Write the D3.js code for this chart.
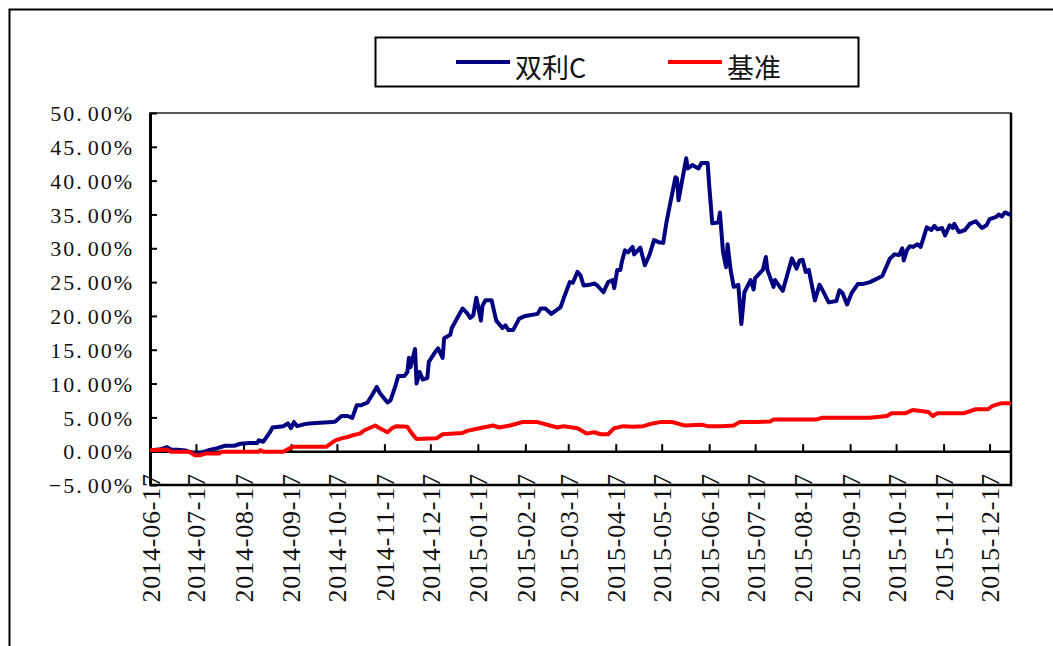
<!DOCTYPE html>
<html>
<head>
<meta charset="utf-8">
<script src="https://cdn.jsdelivr.net/npm/d3@7"></script>
<style>
  body { margin: 0; background: #fff; }
  svg { display: block; }
</style>
</head>
<body>
<div id="chart"></div>
<script>
var svgWidth = 1053;
var svgHeight = 646;

// plot box
var plot = { left: 150, right: 1011, top: 113, bottom: 485 };

var seriesNames = ["双利C", "基准"];
var seriesColors = ["#000080", "#ff0000"];

// 双利C cumulative return (%)
var fundDates = ["2014-06-17","2014-06-24","2014-06-28","2014-07-01","2014-07-05","2014-07-10","2014-07-15","2014-07-18","2014-07-22","2014-07-26",
  "2014-07-31","2014-08-05","2014-08-11","2014-08-15","2014-08-21","2014-08-26","2014-08-27","2014-08-30","2014-09-03","2014-09-05",
  "2014-09-12","2014-09-15","2014-09-17","2014-09-19","2014-09-21","2014-09-26","2014-09-29","2014-10-06","2014-10-14","2014-10-16",
  "2014-10-20","2014-10-24","2014-10-27","2014-10-30","2014-11-02","2014-11-06","2014-11-09","2014-11-12","2014-11-14","2014-11-19",
  "2014-11-21","2014-11-24","2014-11-26","2014-11-30","2014-12-02","2014-12-03","2014-12-04","2014-12-07","2014-12-08","2014-12-10",
  "2014-12-12","2014-12-15","2014-12-16","2014-12-20","2014-12-22","2014-12-25","2014-12-26","2014-12-30","2014-12-31","2015-01-07",
  "2015-01-10","2015-01-12","2015-01-14","2015-01-16","2015-01-17","2015-01-19","2015-01-20","2015-01-22","2015-01-26","2015-01-27",
  "2015-01-29","2015-02-02","2015-02-04","2015-02-06","2015-02-09","2015-02-13","2015-02-17","2015-02-25","2015-02-27","2015-03-02",
  "2015-03-06","2015-03-12","2015-03-14","2015-03-16","2015-03-18","2015-03-20","2015-03-23","2015-03-25","2015-03-27","2015-03-31",
  "2015-04-03","2015-04-05","2015-04-09","2015-04-12","2015-04-15","2015-04-16","2015-04-18","2015-04-20","2015-04-21","2015-04-23",
  "2015-04-25","2015-04-28","2015-04-29","2015-05-03","2015-05-06","2015-05-09","2015-05-12","2015-05-15","2015-05-18","2015-05-20",
  "2015-05-22","2015-05-26","2015-05-27","2015-05-28","2015-05-30","2015-06-02","2015-06-03","2015-06-06","2015-06-10","2015-06-12",
  "2015-06-16","2015-06-17","2015-06-19","2015-06-23","2015-06-24","2015-06-26","2015-06-28","2015-06-29","2015-07-01","2015-07-03",
  "2015-07-06","2015-07-08","2015-07-10","2015-07-14","2015-07-16","2015-07-17","2015-07-22","2015-07-24","2015-07-25","2015-07-29",
  "2015-07-30","2015-08-04","2015-08-06","2015-08-10","2015-08-13","2015-08-15","2015-08-17","2015-08-19","2015-08-21","2015-08-25",
  "2015-08-28","2015-08-30","2015-09-03","2015-09-08","2015-09-10","2015-09-12","2015-09-15","2015-09-18","2015-09-22","2015-09-25",
  "2015-09-30","2015-10-08","2015-10-13","2015-10-16","2015-10-19","2015-10-21","2015-10-22","2015-10-24","2015-10-26","2015-10-28",
  "2015-10-31","2015-11-02","2015-11-04","2015-11-06","2015-11-09","2015-11-11","2015-11-13","2015-11-16","2015-11-18","2015-11-21",
  "2015-11-23","2015-11-24","2015-11-27","2015-12-01","2015-12-04","2015-12-08","2015-12-12","2015-12-15","2015-12-17","2015-12-21",
  "2015-12-23","2015-12-25","2015-12-27","2015-12-31"];
var fundValues = [0.1,0.3,0.6,0.2,0.2,0.1,-0.3,-0.5,-0.1,0.2,
  0.45,0.8,0.8,1.1,1.2,1.2,1.6,1.4,2.7,3.5,
  3.7,4.1,3.4,4.3,3.7,4.0,4.1,4.2,4.3,4.4,
  5.2,5.2,4.9,6.8,6.8,7.2,8.3,9.5,8.6,7.2,
  7.5,9.5,11.1,11.1,11.7,13.8,12.4,15.1,10.0,11.7,
  10.6,10.8,13.2,14.6,15.2,13.8,16.7,17.2,18.2,21.1,
  20.4,19.7,20.1,22.7,21.6,19.3,21.5,22.3,22.3,21.3,
  19.3,18.2,18.6,17.9,17.9,19.6,20.0,20.3,21.1,21.1,
  20.3,21.3,22.6,23.8,25.0,24.9,26.5,26.0,24.5,24.6,
  24.8,24.5,23.5,25.0,25.3,24.1,26.8,26.8,28.0,29.7,
  29.4,30.2,29.1,30.1,27.5,29.0,31.2,30.9,30.8,33.7,
  36.0,40.5,40.3,37.1,39.6,43.3,41.8,42.3,41.8,42.6,
  42.6,39.3,33.7,33.8,35.3,29.5,27.2,30.6,26.8,24.3,
  24.6,18.8,23.5,25.3,23.9,25.6,26.8,28.7,26.8,24.3,
  25.3,23.7,25.3,28.5,27.0,28.2,28.3,26.5,26.8,22.3,
  24.6,23.8,22.0,22.2,23.8,23.4,21.7,23.4,24.7,24.7,
  25.0,25.9,28.5,29.1,29.0,30.0,28.2,29.7,30.3,30.2,
  30.6,30.2,31.6,33.1,32.7,33.3,32.8,33.0,31.9,33.4,
  33.0,33.6,32.4,32.7,33.6,34.0,33.0,33.4,34.3,34.6,
  35.0,34.7,35.3,34.9];

// 基准 cumulative return (%)
var benchDates = ["2014-06-17","2014-06-28","2014-07-01","2014-07-13","2014-07-16","2014-07-20","2014-07-23","2014-08-01","2014-08-03","2014-08-27",
  "2014-08-28","2014-08-30","2014-09-12","2014-09-18","2014-10-10","2014-10-16","2014-10-20","2014-10-24","2014-10-28","2014-11-01",
  "2014-11-04","2014-11-11","2014-11-14","2014-11-19","2014-11-22","2014-11-25","2014-12-02","2014-12-05","2014-12-08","2014-12-21",
  "2014-12-25","2015-01-07","2015-01-10","2015-01-18","2015-01-27","2015-01-31","2015-02-07","2015-02-15","2015-02-25","2015-03-05",
  "2015-03-10","2015-03-14","2015-03-23","2015-03-29","2015-04-03","2015-04-07","2015-04-12","2015-04-16","2015-04-22","2015-04-28",
  "2015-05-05","2015-05-11","2015-05-16","2015-05-24","2015-06-01","2015-06-12","2015-06-16","2015-06-25","2015-07-03","2015-07-07",
  "2015-07-18","2015-07-27","2015-07-29","2015-08-26","2015-08-30","2015-09-30","2015-10-11","2015-10-14","2015-10-23","2015-10-28",
  "2015-11-07","2015-11-10","2015-11-13","2015-11-30","2015-12-08","2015-12-16","2015-12-19","2015-12-25","2015-12-31"];
var benchValues = [0.15,0.25,-0.1,-0.1,-0.6,-0.6,-0.35,-0.35,-0.1,-0.1,
  0.15,-0.1,-0.1,0.65,0.65,1.6,1.9,2.1,2.4,2.6,
  3.1,3.8,3.4,2.8,3.4,3.7,3.6,2.6,1.8,1.9,
  2.5,2.7,3.0,3.4,3.8,3.5,3.8,4.3,4.3,3.8,
  3.5,3.7,3.4,2.6,2.8,2.5,2.5,3.4,3.7,3.6,
  3.7,4.1,4.3,4.3,3.8,3.9,3.7,3.7,3.8,4.3,
  4.3,4.4,4.7,4.7,4.95,4.95,5.2,5.6,5.6,6.1,
  5.8,5.2,5.6,5.6,6.2,6.2,6.7,7.1,7.1];

var yTickValues = [-5, 0, 5, 10, 15, 20, 25, 30, 35, 40, 45, 50];
var xTickLabels = ["2014-06-17","2014-07-17","2014-08-17","2014-09-17","2014-10-17","2014-11-17","2014-12-17",
  "2015-01-17","2015-02-17","2015-03-17","2015-04-17","2015-05-17","2015-06-17","2015-07-17","2015-08-17",
  "2015-09-17","2015-10-17","2015-11-17","2015-12-17"];

var parseDate = d3.timeParse("%Y-%m-%d");
var formatDate = d3.timeFormat("%Y-%m-%d");

var fundData = fundDates.map(function(d, i) { return { date: parseDate(d), value: fundValues[i] }; });
var benchData = benchDates.map(function(d, i) { return { date: parseDate(d), value: benchValues[i] }; });

var svg = d3.select("#chart")
  .append("svg")
  .attr("width", svgWidth)
  .attr("height", svgHeight);

svg.append("rect")
  .attr("width", svgWidth)
  .attr("height", svgHeight)
  .attr("fill", "#fff");

// outer frame (cut off by the picture on right/bottom)
svg.append("rect")
  .attr("x", 9.5).attr("y", 9.5)
  .attr("width", 1100).attr("height", 700)
  .attr("fill", "none")
  .attr("stroke", "#000")
  .attr("stroke-width", 2);

var xScale = d3.scaleTime()
  .domain([parseDate("2014-06-17"), parseDate("2015-12-31")])
  .range([plot.left, plot.right]);

var yScale = d3.scaleLinear()
  .domain([-5, 50])
  .range([plot.bottom, plot.top]);

// plot box
svg.append("rect")
  .attr("x", plot.left).attr("y", plot.top)
  .attr("width", plot.right - plot.left)
  .attr("height", plot.bottom - plot.top)
  .attr("fill", "none")
  .attr("stroke", "#222")
  .attr("stroke-width", 1.5);
svg.append("path")
  .attr("d", `M${plot.left},${plot.bottom}H${plot.right}V${plot.top}`)
  .attr("fill", "none")
  .attr("stroke", "#000")
  .attr("stroke-width", 2.5);

// y axis, ticks pointing inward
var leftAxis = d3.axisLeft(yScale)
  .tickValues(yTickValues)
  .tickSize(-7)
  .tickSizeOuter(0)
  .tickPadding(16);

var yAxis = svg.append("g")
  .attr("transform", `translate(${plot.left},0)`)
  .call(leftAxis);

yAxis.select(".domain").attr("stroke", "#000").attr("stroke-width", 3);
yAxis.selectAll(".tick line").attr("stroke", "#000").attr("stroke-width", 2);
yAxis.selectAll(".tick text")
  .attr("font-family", "'Liberation Serif', 'DejaVu Serif', serif")
  .attr("font-size", "22px")
  .attr("letter-spacing", "2px")
  .attr("fill", "#111")
  .attr("dy", "0.35em")
  .each(function(d) {
    var txt = d3.format(".2f")(d).replace("-", "\u2212");
    var parts = txt.split(".");
    var t = d3.select(this).text(null);
    t.append("tspan").text(parts[0] + ".");
    t.append("tspan").attr("dx", 4).text(parts[1] + "%");
  });

// x axis on the zero line, ticks pointing up
var bottomAxis = d3.axisBottom(xScale)
  .tickValues(xTickLabels.map(parseDate))
  .tickFormat(formatDate)
  .tickSize(-7)
  .tickSizeOuter(0);

var xAxis = svg.append("g")
  .attr("transform", `translate(0,${yScale(0)})`)
  .call(bottomAxis);

xAxis.select(".domain").attr("stroke", "#000").attr("stroke-width", 2.5);
xAxis.selectAll(".tick line").attr("stroke", "#000").attr("stroke-width", 2);
xAxis.selectAll(".tick text")
  .attr("y", 0)
  .attr("dy", null)
  .attr("transform", "translate(9,22) rotate(-90)")
  .attr("text-anchor", "end")
  .attr("font-family", "'Liberation Serif', 'DejaVu Serif', serif")
  .attr("font-size", "26px")
  .attr("letter-spacing", "0.8px")
  .attr("fill", "#111");

// lines
var line = d3.line()
  .x(d => xScale(d.date))
  .y(d => yScale(d.value));

svg.append("path")
  .datum(fundData)
  .attr("d", line)
  .attr("fill", "none")
  .attr("stroke", seriesColors[0])
  .attr("stroke-width", 4)
  .attr("stroke-linejoin", "round");

svg.append("path")
  .datum(benchData)
  .attr("d", line)
  .attr("fill", "none")
  .attr("stroke", seriesColors[1])
  .attr("stroke-width", 4)
  .attr("stroke-linejoin", "round");

// legend
var legend = svg.append("g");
legend.append("rect")
  .attr("x", 375.5).attr("y", 37.5)
  .attr("width", 483).attr("height", 49)
  .attr("fill", "#fff")
  .attr("stroke", "#000")
  .attr("stroke-width", 2);

var legendX = [456, 668];
seriesNames.forEach(function(name, i) {
  legend.append("line")
    .attr("x1", legendX[i]).attr("x2", legendX[i] + 54)
    .attr("y1", 62).attr("y2", 62)
    .attr("stroke", seriesColors[i])
    .attr("stroke-width", 4);
  legend.append("text")
    .attr("x", legendX[i] + 59)
    .attr("y", 78)
    .attr("font-family", "'Noto Sans CJK SC', sans-serif")
    .attr("font-size", "27px")
    .attr("fill", "#111")
    .text(name);
});
</script>
</body>
</html>
